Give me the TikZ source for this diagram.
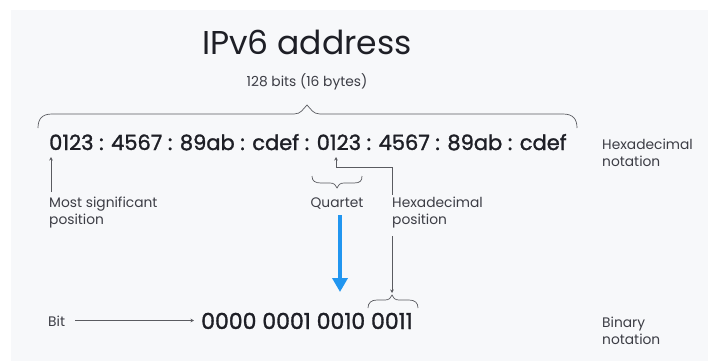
\documentclass[tikz,border=0pt]{standalone}
\usepackage{fontspec}
\setmainfont{Poppins}
\newfontfamily\hexfont[FakeBold=1.4]{Poppins}
\usetikzlibrary{arrows.meta}
\definecolor{bgpanel}{HTML}{F7F8FA}
\definecolor{ink}{HTML}{1E1F26}
\definecolor{labelink}{HTML}{3C3D45}
\definecolor{lineink}{HTML}{5A5B60}
\definecolor{bluearrow}{HTML}{2196F0}
\tikzset{
  title/.style={font=\fontsize{33}{38}\selectfont, text=ink, inner sep=0pt},
  sublabel/.style={font=\fontsize{13.8}{17}\selectfont, text=labelink, inner sep=0pt, align=left},
  hexline/.style={font=\hexfont\fontsize{21}{24}\selectfont, text=ink, inner sep=0pt},
  binline/.style={font=\hexfont\fontsize{22}{24}\selectfont, text=ink, inner sep=0pt},
  thinline/.style={draw=lineink, line width=0.7pt},
  smallarrow/.style={thinline, -{Stealth[length=3.5pt,width=3.5pt]}},
  bigarrow/.style={draw=bluearrow, line width=4.8pt, -{Triangle[length=14pt,width=15pt]}, shorten >=0pt},
}
\begin{document}
\begin{tikzpicture}[x=1pt,y=-1pt]
\useasboundingbox (0,0) rectangle (708,361);
\fill[white] (0,0) rectangle (708,361);
\fill[bgpanel] (11,10) rectangle (708,361);

% titles
\node[title, anchor=base] (title) at (307,55) {IPv6 address};
\node[sublabel, anchor=base] (bits) at (307,86) {128 bits (16 bytes)};

% big brace
\draw[thinline] (38,128) .. controls (38,119) and (42,114) .. (52,114) -- (294,114)
  .. controls (301,114) and (303,109) .. (307,105)
  .. controls (311,109) and (313,114) .. (320,114) -- (563,114)
  .. controls (573,114) and (577,119) .. (577,128);

% hex line
\node[hexline, anchor=base west] (hex) at (49,150) {0123 : 4567 : 89ab : cdef : 0123 : 4567 : 89ab : cdef};
\node[sublabel, anchor=base west] (hexnot) at (602,166) {Hexadecimal\\notation};

% most significant
\coordinate (msbtop) at (51,157);
\node[sublabel, anchor=base west] (msb) at (49,224) {Most significant\\position};
\coordinate (msbbot) at (51,192);
\draw[smallarrow] (msbbot) -- (msbtop);

% quartet brace
\draw[thinline] (312,176) .. controls (312,181) and (315,183) .. (321,183) -- (330,183)
  .. controls (334,183) and (336,185) .. (337,188)
  .. controls (338,185) and (340,183) .. (344,183) -- (354,183)
  .. controls (360,183) and (362,181) .. (362,176);
\node[sublabel, anchor=base] (quartet) at (337,207) {Quartet};

% hexadecimal position
\node[sublabel, anchor=base west] (hexpos) at (392,224) {Hexadecimal\\position};
\coordinate (hpa) at (392,195);
\coordinate (hpcorner) at (392,167);
\coordinate (hpcorner2) at (336,167);
\coordinate (hptip) at (336,157);
\draw[smallarrow] (hpa) -- (hpcorner) -- (hpcorner2) -- (hptip);
\coordinate (hpb) at (392,236);
\coordinate (bbtip) at (392,293);
\draw[smallarrow] (hpb) -- (bbtip);

% blue arrow
\coordinate (blues) at (340,215);
\coordinate (bluee) at (340,292);
\draw[bigarrow] (blues) -- (bluee);

% binary brace (pointing up)
\draw[thinline] (368,308) .. controls (368,303) and (371,300) .. (377,300) -- (385,300)
  .. controls (389,300) and (391,298) .. (392,295)
  .. controls (393,298) and (395,300) .. (399,300) -- (409,300)
  .. controls (415,300) and (418,303) .. (418,308);

% bit row
\node[sublabel, anchor=base west] (bit) at (48,326) {Bit};
\node[binline, anchor=base west] (bin) at (201,329) {0000 0001 0010 0011};
\coordinate (bitstart) at (75,320.5);
\coordinate (bitend) at (194,320.5);
\draw[smallarrow] (bitstart) -- (bitend);
\node[sublabel, anchor=base west] (binnot) at (602,344) {Binary\\notation};
\end{tikzpicture}
\end{document}
